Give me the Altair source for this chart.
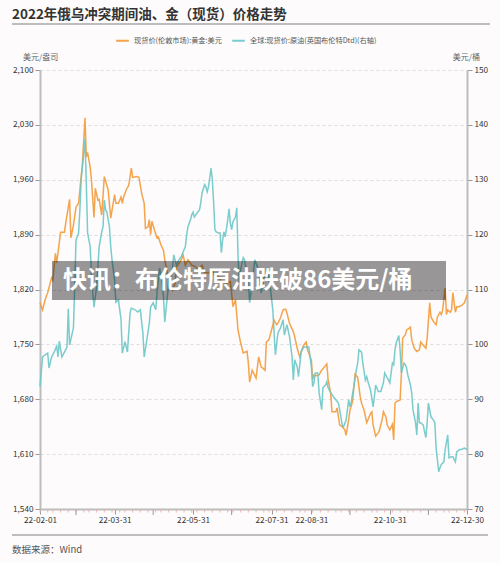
import altair as alt
import pandas as pd

# ---------------- data ----------------
gold_name = "现货价(伦敦市场):黄金:美元"
oil_name = "全球:现货价:原油(英国布伦特Dtd)(右轴)"

# days since 2022-02-01
gold_day = [0, 2, 4, 6, 9, 10, 12, 13, 16, 19, 20, 23, 24, 26, 28, 30, 32, 33, 35, 36, 37, 39, 40, 42, 43,
            45, 46, 48, 50, 53, 55, 58, 59, 61, 63, 64, 65, 67, 69, 71, 72, 75, 77, 79, 81, 82, 84, 85, 86, 87,
            89, 91, 92, 94, 96, 97, 99, 101, 103, 105, 106, 107, 110, 111, 113, 115, 118, 121, 123, 126, 128,
            131, 134, 136, 138, 141, 145, 148, 149, 150, 152, 154, 156, 158, 161, 162, 163, 165, 168, 170, 172,
            173, 175, 176, 178, 180, 182, 184, 185, 187, 189, 191, 192, 194, 197, 198, 200, 201, 202, 204, 205,
            207, 208, 211, 212, 213, 215, 217, 219, 221, 223, 224, 226, 227, 229, 230, 231, 233, 235, 237, 238,
            240, 241, 243, 245, 247, 249, 250, 252, 254, 255, 257, 258, 259, 261, 263, 264, 266, 267, 269, 270,
            272, 274, 275, 276, 277, 280, 281, 282, 284, 285, 288, 289, 291, 293, 295, 296, 298, 300, 301, 303,
            304, 306, 308, 309, 311, 312, 313, 315, 316, 317, 319, 320, 321, 323, 324, 326, 328, 330, 332]
gold_price = [1803, 1794, 1807, 1816, 1835, 1832, 1866, 1854, 1893, 1893, 1905, 1935, 1886, 1902, 1925, 1930,
              1964, 1981, 2039, 1989, 1995, 1976, 1960, 1912, 1949, 1934, 1935, 1915, 1964, 1947, 1911, 1941,
              1930, 1930, 1938, 1930, 1938, 1947, 1953, 1975, 1963, 1964, 1963, 1943, 1930, 1898, 1900, 1909,
              1890, 1907, 1896, 1886, 1887, 1877, 1870, 1858, 1841, 1826, 1819, 1828, 1849, 1851, 1858, 1866,
              1851, 1858, 1851, 1849, 1845, 1851, 1842, 1841, 1845, 1836, 1838, 1830, 1828, 1830, 1815, 1798,
              1807, 1768, 1752, 1739, 1741, 1726, 1702, 1717, 1707, 1734, 1721, 1720, 1717, 1753, 1756, 1768,
              1781, 1775, 1777, 1784, 1794, 1795, 1790, 1777, 1766, 1760, 1745, 1739, 1734, 1745, 1749, 1753,
              1743, 1730, 1705, 1711, 1710, 1711, 1717, 1721, 1725, 1705, 1688, 1664, 1664, 1664, 1669, 1647,
              1645, 1641, 1634, 1654, 1666, 1677, 1712, 1708, 1683, 1675, 1666, 1650, 1654, 1662, 1664, 1647,
              1633, 1637, 1641, 1654, 1664, 1657, 1647, 1641, 1648, 1628, 1675, 1677, 1679, 1713, 1758, 1762,
              1768, 1772, 1756, 1745, 1741, 1743, 1753, 1749, 1745, 1758, 1803, 1785, 1779, 1775, 1785, 1791,
              1788, 1793, 1822, 1788, 1794, 1791, 1794, 1816, 1791, 1798, 1798, 1800, 1803, 1813]

oil_day = [0, 2, 4, 6, 7, 9, 11, 13, 14, 15, 17, 19, 21, 22, 23, 26, 27, 28, 30, 31, 32, 33, 35, 36, 37, 39,
           40, 41, 42, 44, 45, 46, 48, 49, 50, 51, 52, 54, 55, 56, 58, 59, 61, 63, 64, 66, 68, 70, 71, 74, 76,
           78, 80, 81, 84, 85, 86, 88, 90, 91, 93, 95, 96, 97, 99, 100, 101, 102, 104, 106, 108, 110, 111, 113,
           114, 115, 117, 118, 119, 120, 122, 124, 125, 126, 128, 129, 130, 131, 133, 134, 135, 136, 137, 139,
           140, 141, 142, 143, 144, 146, 147, 148, 149, 150, 152, 153, 154, 155, 156, 158, 159, 160, 162, 163,
           165, 167, 170, 172, 174, 177, 179, 181, 183, 185, 187, 189, 190, 192, 194, 196, 197, 198, 200, 201,
           203, 205, 207, 209, 211, 212, 213, 214, 216, 217, 219, 220, 222, 223, 224, 226, 228, 230, 232, 233,
           235, 236, 238, 240, 241, 242, 244, 246, 247, 248, 250, 251, 253, 254, 255, 257, 259, 260, 261, 263,
           265, 267, 268, 270, 271, 272, 274, 275, 276, 277, 279, 280, 281, 283, 284, 285, 286, 288, 289, 290,
           292, 293, 294, 295, 296, 298, 299, 300, 301, 302, 304, 306, 307, 308, 310, 311, 312, 314, 315, 317,
           318, 320, 321, 323, 324, 326, 328, 330, 332]
oil_price = [92.3, 97.7, 98.1, 98.4, 95.7, 97.7, 98.6, 99.7, 97.7, 100.6, 97.7, 98.6, 99.5, 106.5, 99.9, 103,
             110.5, 119, 120.3, 124.5, 130, 132.3, 137.4, 129.4, 120.3, 117.8, 113, 109.4, 106.8, 110.5, 114.1,
             117.8, 120.5, 121.4, 126.3, 124.5, 124.1, 121.4, 117.8, 115.4, 111.7, 107.7, 108.1, 104.5, 98.4,
             100.5, 98.6, 105.7, 106.6, 106.3, 105.9, 106.3, 102.1, 97.7, 102.3, 103.9, 106.8, 107.6, 106.3,
             109.4, 113.9, 111.4, 108.7, 104.1, 108.7, 111.2, 113, 111.7, 116.3, 114.5, 115.4, 116, 116.7,
             117.8, 119.9, 121.4, 122.7, 123.6, 124.1, 123.2, 123.9, 124.5, 125.8, 127.6, 129.1, 128.7, 127.8,
             128.7, 132.1, 130, 125.8, 120.9, 120.5, 120.3, 120.3, 116.7, 119, 120.5, 119.6, 122.7, 124.7,
             122.1, 120.9, 122.3, 123.2, 124.9, 116, 111.2, 113.6, 115.8, 115.4, 114.1, 111.2, 107.6, 111.2,
             115.4, 113.5, 109.4, 112, 113.6, 110.5, 106.3, 98.1, 102.1, 103, 104.5, 101.7, 103.6, 101.4, 97.7,
             93.5, 97.2, 95.9, 94.1, 98.6, 99.5, 99.5, 99.5, 95.9, 92.3, 93, 94.8, 94.8, 91.2, 88.1, 92.1, 92.6,
             93.2, 92.1, 91.2, 90.5, 89.9, 89.3, 88.1, 85.3, 85, 86.2, 89.9, 88.6, 89.5, 92.3, 95.4, 96.6, 99,
             98.6, 96.6, 93.5, 94.1, 93.2, 91.7, 88.6, 90.5, 92.6, 91.4, 91.4, 93, 94.8, 93.9, 93.5, 93, 96.6,
             96.3, 99, 100.3, 101.6, 99, 94.8, 96.6, 96.3, 95.7, 94.4, 92.6, 91.2, 88.1, 85.7, 83.5, 89.3, 85.7,
             85.7, 85.3, 84.1, 83, 85.7, 89.3, 86.8, 86.2, 85.7, 81.1, 76.8, 77.5, 78.1, 78.6, 80.8, 83.5, 79.3,
             79.5, 79.5, 78.6, 80.4, 80.8, 80.9, 81.1, 80.8]

gold_ticks = [1540, 1610, 1680, 1750, 1820, 1890, 1960, 2030, 2100]
oil_ticks = [70, 80, 90, 100, 110, 120, 130, 140, 150]
x_label_dates = ["2022-02-01", "2022-03-31", "2022-05-31", "2022-07-31", "2022-08-31", "2022-10-31",
                 "2022-12-30"]
x_other_ticks = ["2022-03-01", "2022-04-30", "2022-06-30", "2022-09-30", "2022-11-30"]

title_text = "2022年俄乌冲突期间油、金（现货）价格走势"
banner_text = "快讯：布伦特原油跌破86美元/桶"
source_text = "数据来源：Wind"
left_unit = "美元/盎司"
right_unit = "美元/桶"

# ---------------- build frames ----------------
start = pd.Timestamp("2022-02-01")
gold_df = pd.DataFrame({"date": start + pd.to_timedelta(gold_day, unit="D"),
                        "price": gold_price, "series": gold_name})
oil_df = pd.DataFrame({"date": start + pd.to_timedelta(oil_day, unit="D"),
                       "price": oil_price, "series": oil_name})
minor_df = pd.DataFrame({"date": pd.bdate_range("2022-02-01", "2022-12-30")[::4]})
major_df = pd.DataFrame({"date": pd.to_datetime(x_other_ticks)})

W, H = 427, 439
FONT = "Noto Sans CJK SC"
ORANGE = "#f39a3a"
TEAL = "#6cc7c8"


def dt(s):
    y, m, d = (int(v) for v in s.split("-"))
    return alt.DateTime(year=y, month=m, date=d)


x_enc = alt.X(
    "date:T",
    scale=alt.Scale(domain=[dt("2022-02-01"), dt("2022-12-30")]),
    axis=alt.Axis(
        values=[dt(s) for s in x_label_dates],
        labelExpr="timeFormat(datum.value, '%y-%m-%d')",
        labelOverlap=False, labelFlush=False, title=None, grid=False,
        labelFontSize=8.2, labelColor="#333333", labelPadding=2.5,
        tickSize=5, tickColor="#999999", domainColor="#bdbdbd", domainWidth=2,
    ),
)

color_enc = alt.Color(
    "series:N",
    scale=alt.Scale(domain=[gold_name, oil_name], range=[ORANGE, TEAL]),
    legend=alt.Legend(
        orient="none", legendX=75, legendY=-37, direction="horizontal", title=None,
        symbolType="stroke", symbolSize=160, symbolStrokeWidth=2, labelFontSize=7.2,
        labelColor="#555555", labelOffset=4, columnPadding=6,
    ),
)

axis_common = dict(labelFontSize=8.2, labelColor="#333333", labelPadding=2, title=None,
                   tickSize=5, tickColor="#999999", domainColor="#bdbdbd", domainWidth=2)

gold_line = alt.Chart(gold_df).mark_line(strokeWidth=1.5, opacity=0.9).encode(
    x=x_enc,
    y=alt.Y("price:Q",
            scale=alt.Scale(domain=[1540, 2100], nice=False, zero=False),
            axis=alt.Axis(orient="left", values=gold_ticks,
                          labelExpr="format(datum.value, ',')",
                          grid=True, gridColor="#dddddd", gridDash=[3, 3], **axis_common)),
    color=color_enc,
)

oil_line = alt.Chart(oil_df).mark_line(strokeWidth=1.5, opacity=0.9).encode(
    x=x_enc,
    y=alt.Y("price:Q",
            scale=alt.Scale(domain=[70, 150], nice=False, zero=False),
            axis=alt.Axis(orient="right", values=oil_ticks,
                          labelExpr="format(datum.value, 'd')",
                          grid=False, **axis_common)),
    color=color_enc,
)

minor_ticks = alt.Chart(minor_df).mark_rule(color="#f2b3b3", strokeWidth=1).encode(
    x="date:T", y=alt.value(H + 1), y2=alt.value(H + 3.5)
)
major_ticks = alt.Chart(major_df).mark_rule(color="#999999", strokeWidth=1).encode(
    x="date:T", y=alt.value(H + 1), y2=alt.value(H + 6)
)

one = pd.DataFrame({"a": [0]})


def txt(text, x, y, size, color, weight="normal", align="left", baseline="middle"):
    return alt.Chart(pd.DataFrame({"t": [text]})).mark_text(
        fontSize=size, color=color, fontWeight=weight, align=align, baseline=baseline, font=FONT
    ).encode(x=alt.value(x), y=alt.value(y), text="t:N")


title = txt(title_text, -28, -55, 13.5, "#333333", weight="bold")
title_rule = alt.Chart(one).mark_rule(color="#a8a8a8", strokeWidth=1.5).encode(
    x=alt.value(-28), x2=alt.value(450), y=alt.value(-46))
unit_l = txt(left_unit, -17, -12, 8, "#666666")
unit_r = txt(right_unit, 440, -12, 8, "#666666", align="right")
foot_rule = alt.Chart(one).mark_rule(color="#a8a8a8", strokeWidth=1.5).encode(
    x=alt.value(-28), x2=alt.value(448), y=alt.value(465))
source = txt(source_text, -28, 480, 9.5, "#555555")

banner = alt.Chart(one).mark_rect(color="black", opacity=0.4).encode(
    x=alt.value(12), x2=alt.value(406), y=alt.value(191), y2=alt.value(230))
banner_t = txt(banner_text, 23, 210.5, 24, "white", weight="bold")

chart = alt.layer(
    gold_line, oil_line, minor_ticks, major_ticks, banner, banner_t,
    title, title_rule, unit_l, unit_r, foot_rule, source,
).resolve_scale(y="independent").properties(
    width=W, height=H,
    autosize=alt.AutoSizeParams(type="none"),
    padding={"left": 40, "top": 70, "right": 33, "bottom": 54},
    background="#fdfbfb",
).configure(font=FONT).configure_view(stroke=None)

chart.save("out.html", embed_options={"renderer": "svg", "actions": False})
